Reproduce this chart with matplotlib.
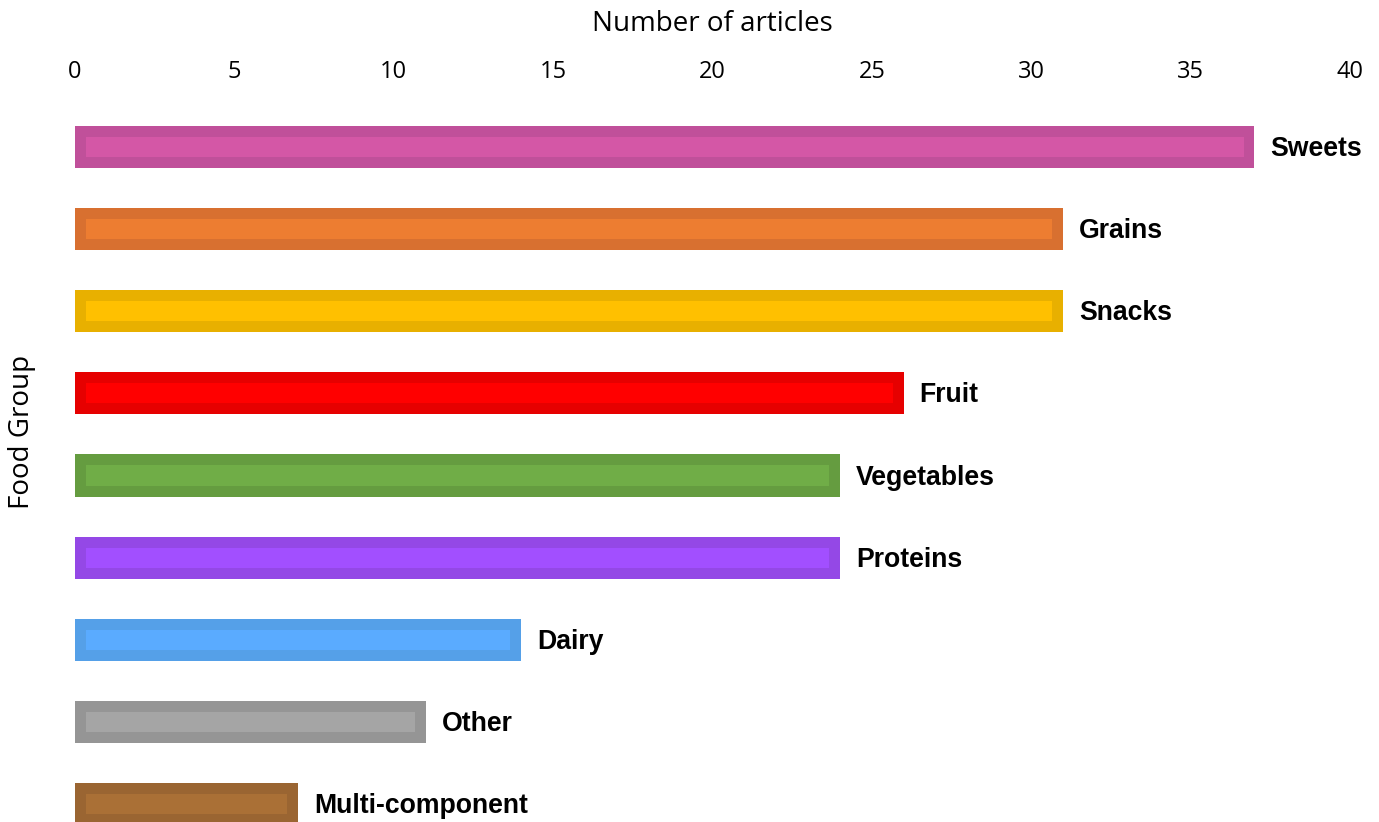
import matplotlib.pyplot as plt

groups = ['Sweets', 'Grains', 'Snacks', 'Fruit', 'Vegetables', 'Proteins',
          'Dairy', 'Other', 'Multi-component']
counts = [37, 31, 31, 26, 24, 24, 14, 11, 7]
fill_colors = ['#D457A6', '#ED7D31', '#FFC000', '#FF0000', '#70AD47',
               '#A24FFF', '#5AABFF', '#A5A5A5', '#AA7036']
edge_colors = ['#C0509A', '#D87030', '#E8B000', '#E60000', '#659C40',
               '#9448E6', '#55A0E8', '#959595', '#9A6532']
xticks = [0, 5, 10, 15, 20, 25, 30, 35, 40]

W, H = 1379, 822
fig = plt.figure(figsize=(W / 100, H / 100), dpi=100)
# axes spans from the top of the first row down past the bottom edge
ax = fig.add_axes([75 / W, 0, 1275 / W, (H - 106) / H])

ypos = list(range(len(groups)))
outer_h = 0.512
inner_h = 0.244
inset = 0.34  # inner fill inset, in data units

ax.barh(ypos, counts, height=outer_h, color=edge_colors, linewidth=0)
ax.barh(ypos, [c - 2 * inset for c in counts], left=inset, height=inner_h,
        color=fill_colors, linewidth=0)

for y, c, name in zip(ypos, counts, groups):
    ax.annotate(name, (c, y), xytext=(11.5, -1.5), textcoords='offset points',
                ha='left', va='center', fontsize=19.2, fontweight='bold',
                family='Liberation Sans')

ax.set_xlim(0, 40)
ax.set_ylim(8 + (H - 804) / 82, -0.5)
ax.xaxis.tick_top()
ax.xaxis.set_label_position('top')
ax.set_xticks(xticks)
ax.tick_params(axis='x', length=0, pad=15.5, labelsize=17)
for lab in ax.get_xticklabels():
    lab.set_family('Open Sans')
ax.set_yticks([])
ax.set_xlabel('Number of articles', fontsize=20, family='Open Sans', labelpad=21)
for s in ax.spines.values():
    s.set_visible(False)

fig.text(22 / W, 1 - 432 / H, 'Food Group', rotation=90, ha='center',
         va='center', fontsize=20, family='Open Sans')

fig.savefig('out.png', dpi=100)
